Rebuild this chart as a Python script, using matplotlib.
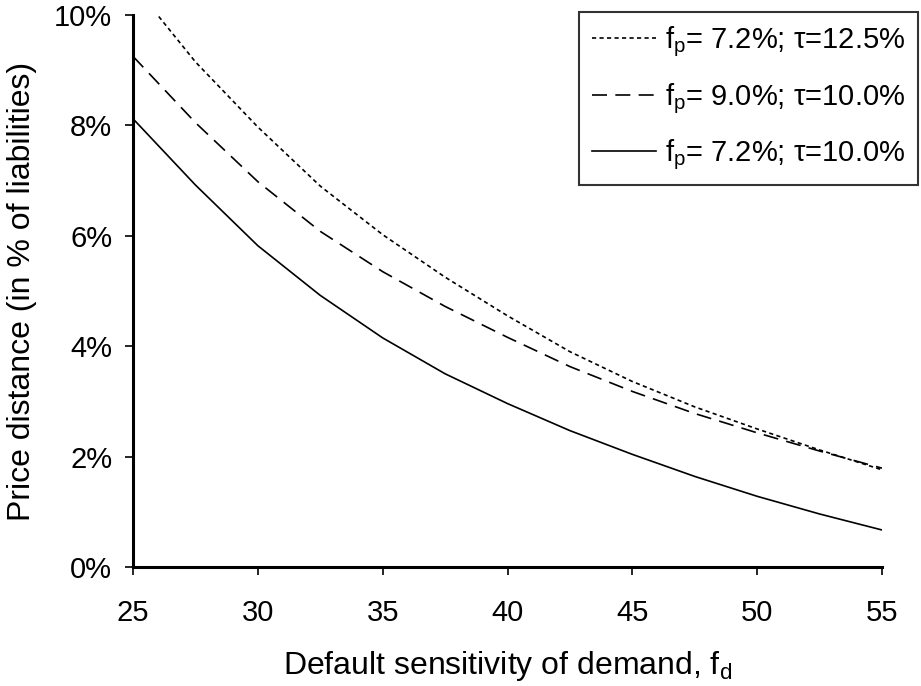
import numpy as np
import matplotlib
matplotlib.use('Agg')
import matplotlib.pyplot as plt
from matplotlib.ticker import FuncFormatter

plt.rcParams['font.family'] = ['Liberation Sans', 'DejaVu Sans']
plt.rcParams['mathtext.fontset'] = 'custom'
plt.rcParams['mathtext.rm'] = 'Liberation Sans'
plt.rcParams['mathtext.it'] = 'Liberation Sans'

# default sensitivity of demand
fd = [25, 27.5, 30, 32.5, 35, 37.5, 40, 42.5, 45, 47.5, 50, 52.5, 55]

# price distance in % of liabilities
dist_72_125 = [10.55, 9.15, 7.97, 6.90, 6.02, 5.25, 4.55, 3.90, 3.36, 2.90, 2.50, 2.12, 1.76]
dist_90_100 = [9.25, 8.05, 6.98, 6.08, 5.35, 4.72, 4.16, 3.63, 3.18, 2.78, 2.43, 2.10, 1.79]
dist_72_100 = [8.12, 6.92, 5.82, 4.92, 4.15, 3.50, 2.96, 2.47, 2.04, 1.64, 1.28, 0.96, 0.67]

labels = [r'$\mathregular{f_p}$= 7.2%; τ=12.5%',
          r'$\mathregular{f_p}$= 9.0%; τ=10.0%',
          r'$\mathregular{f_p}$= 7.2%; τ=10.0%']

fig = plt.figure(figsize=(9.21, 6.86), dpi=100)
ax = fig.add_axes([0.1444, 0.1735, 0.8133, 0.8047])

ax.plot(fd, dist_72_125, color='black', linewidth=1.2, dashes=(2.5, 2), label=labels[0])
ax.plot(fd, dist_90_100, color='black', linewidth=1.2, dashes=(9, 5), label=labels[1])
ax.plot(fd, dist_72_100, color='black', linewidth=1.2, label=labels[2])

ax.set_xlim(25, 55)
ax.set_ylim(0, 10)
ax.set_xticks(np.arange(25, 56, 5))
ax.set_yticks(np.arange(0, 11, 2))
ax.yaxis.set_major_formatter(FuncFormatter(lambda v, p: '%d%%' % v))

for s in ['top', 'right']:
    ax.spines[s].set_visible(False)
for s in ['left', 'bottom']:
    ax.spines[s].set_linewidth(2.2)

ax.tick_params(axis='x', direction='out', length=6, width=1.2, labelsize=21, pad=17)
ax.tick_params(axis='y', direction='out', length=6, width=1.2, labelsize=21, pad=9)

ax.set_xlabel(r'Default sensitivity of demand, $\mathregular{f_d}$', fontsize=23, labelpad=16)
ax.set_ylabel('Price distance (in % of liabilities)', fontsize=23, labelpad=12)

leg = ax.legend(loc='upper right', bbox_to_anchor=(1.048, 1.006), borderaxespad=0,
                fontsize=21, frameon=True, fancybox=False, edgecolor='black',
                handlelength=2.2, handletextpad=0.3, labelspacing=0.75, borderpad=0.45)
leg.get_frame().set_linewidth(1.5)

plt.savefig('out.png', dpi=100)
